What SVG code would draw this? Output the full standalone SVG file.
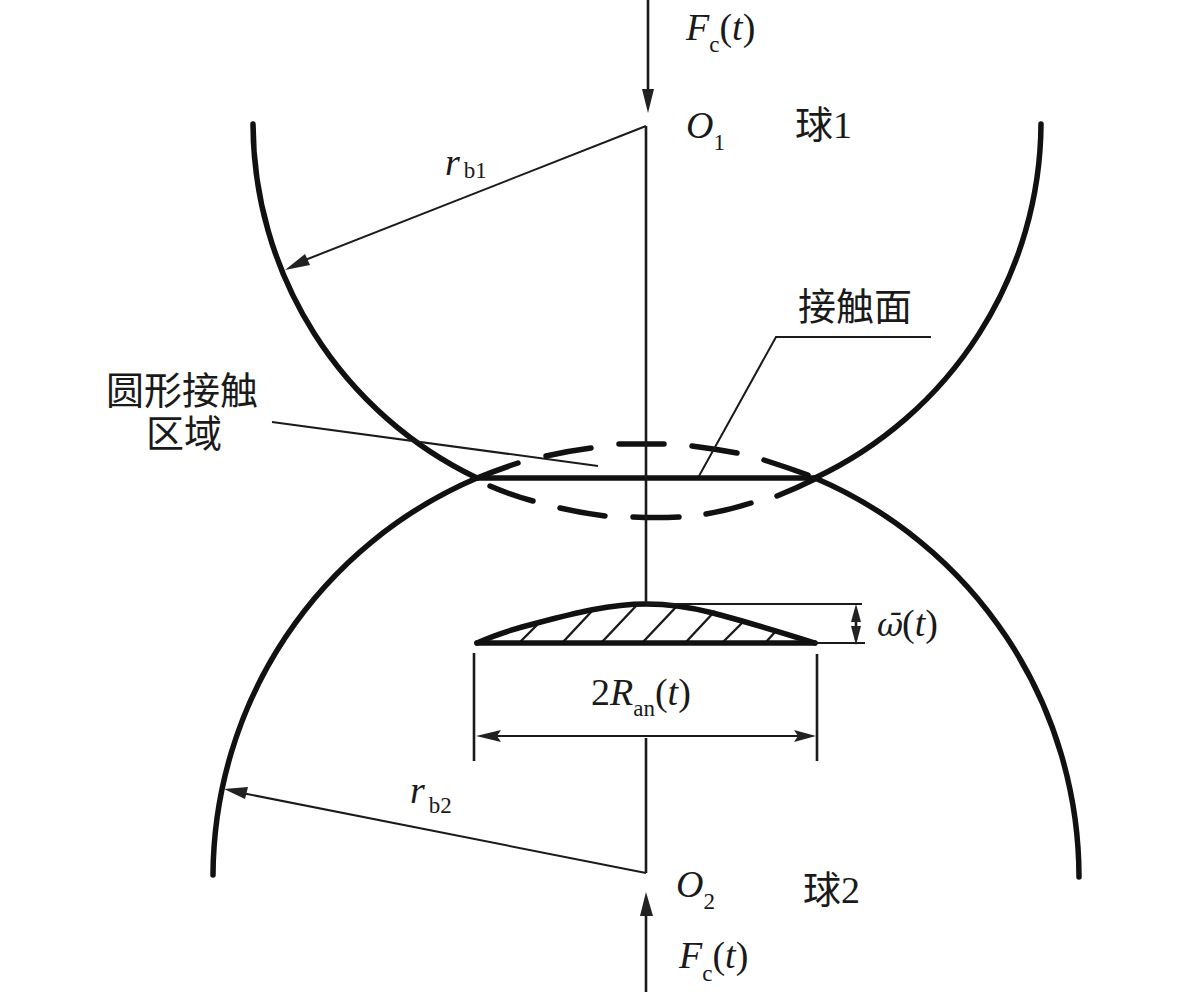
<svg xmlns="http://www.w3.org/2000/svg" width="1200" height="992" viewBox="0 0 1200 992">
<style>
text{font-family:"Liberation Serif","Noto Sans CJK SC",serif;fill:#1a1a1a;font-size:38px}
.i{font-style:italic}
.s{font-size:23px;font-style:normal}
.n{font-style:normal}
.om{font-family:"DejaVu Serif",serif;font-size:32px;font-style:italic}
.thick{fill:none;stroke:#111;stroke-width:5.5;stroke-linecap:round}
.thin{fill:none;stroke:#1a1a1a;stroke-width:2}
.hatch{fill:none;stroke:#1a1a1a;stroke-width:2.4}
.mid{fill:none;stroke:#1a1a1a;stroke-width:2.6}
.ah{fill:#222;stroke:none}
</style>
<rect width="1200" height="992" fill="#fff"/>
<g id="ball1">
<path class="thick" d="M253,124 A394,394 0 0 0 477,478"/>
<path class="thick" d="M815,478 A394,394 0 0 0 1041,124"/>
<path class="thick" d="M490,486 Q511,495 533,501 M560,508 Q582,513 605,516 M633,517 Q656,518 679,517 M706,514 Q729,510 751,503 M777,496 Q797,488 817,478"/>
</g>
<g id="ball2">
<path class="thick" d="M213,875 A434,434 0 0 1 477,478"/>
<path class="thick" d="M815,478 A434,434 0 0 1 1079,877"/>
<path class="thick" d="M477,478 Q497,470 518,463 M546,456 Q568,451 591,448 M619,444 Q641,444 664,444 M692,446 Q715,449 737,453 M764,460 Q786,467 808,475"/>
</g>
<g id="contact-face">
<path class="thick" d="M477,478 H815"/>
</g>
<g id="lens">
<path class="hatch" d="M520,642 L540,622 M563,642 L592,611 M602,642 L636,606 M643,642 L677,606 M686,642 L715,611 M723,642 L745,620 M766,642 L776,631"/>
<path class="thick" d="M477,643 H815"/>
<path class="thick" d="M477,643 C497,634 517,628 537,623 C575,613 610,604 646,604 C665,604 690,607 713,613 C735,619 755,624 815,643"/>
</g>
<g id="connectors">
<path class="mid" d="M646,126 V604 M646,738 V873"/>
<path class="mid" d="M648,0 V92"/>
<path class="ah" d="M648,113 L642,89 H654 Z"/>
<path class="mid" d="M646,912 V992"/>
<path class="ah" d="M646,892 L640,916 H653 Z"/>
<path class="thin" d="M646,126 L300,262"/>
<path class="ah" d="M285,270 L305,254 L310,265 Z"/>
<path class="thin" d="M646,873 L242,793"/>
<path class="ah" d="M224,789 L248,787 L245,799 Z"/>
<path class="thin" d="M272,422 L598,466"/>
<path class="thin" d="M699,476 L776,337 H931"/>
<path class="thin" d="M646,604 H862 M815,643 H865"/>
<path class="mid" d="M856,610 V640"/>
<path class="ah" d="M856,604 L851,622 H861 Z M856,645 L851,626 H861 Z"/>
<path class="mid" d="M474,653 V761 M817,654 V761"/>
<path class="thin" d="M490,736 H802"/>
<path class="ah" d="M476,736 L501,730 L497,736 L501,742 Z M816,736 L794,730 L798,736 L794,742 Z"/>
</g>
<g id="labels">
<text x="686" y="40" class="i">F<tspan class="s" dy="12">c</tspan><tspan dy="-12" class="n">(</tspan>t<tspan class="n">)</tspan></text>
<text x="686" y="138" class="i">O<tspan class="s" dy="12">1</tspan></text>
<text x="795" y="138">球1</text>
<text x="445" y="175" class="i">r<tspan class="s" dx="4" dy="3">b1</tspan></text>
<text x="798" y="320">接触面</text>
<text x="106" y="404">圆形接触</text>
<text x="146" y="447">区域</text>
<text x="877" y="636" class="i"><tspan class="om">ω̄</tspan><tspan class="n" x="902">(</tspan>t<tspan class="n">)</tspan></text>
<text x="591" y="705">2<tspan class="i">R</tspan><tspan class="s" dy="11">an</tspan><tspan dy="-11">(</tspan><tspan class="i">t</tspan>)</text>
<text x="410" y="803" class="i">r<tspan class="s" dx="4" dy="10">b2</tspan></text>
<text x="676" y="897" class="i">O<tspan class="s" dy="12">2</tspan></text>
<text x="803" y="903">球2</text>
<text x="679" y="968" class="i">F<tspan class="s" dy="13">c</tspan><tspan dy="-13" class="n">(</tspan>t<tspan class="n">)</tspan></text>
</g>
</svg>
